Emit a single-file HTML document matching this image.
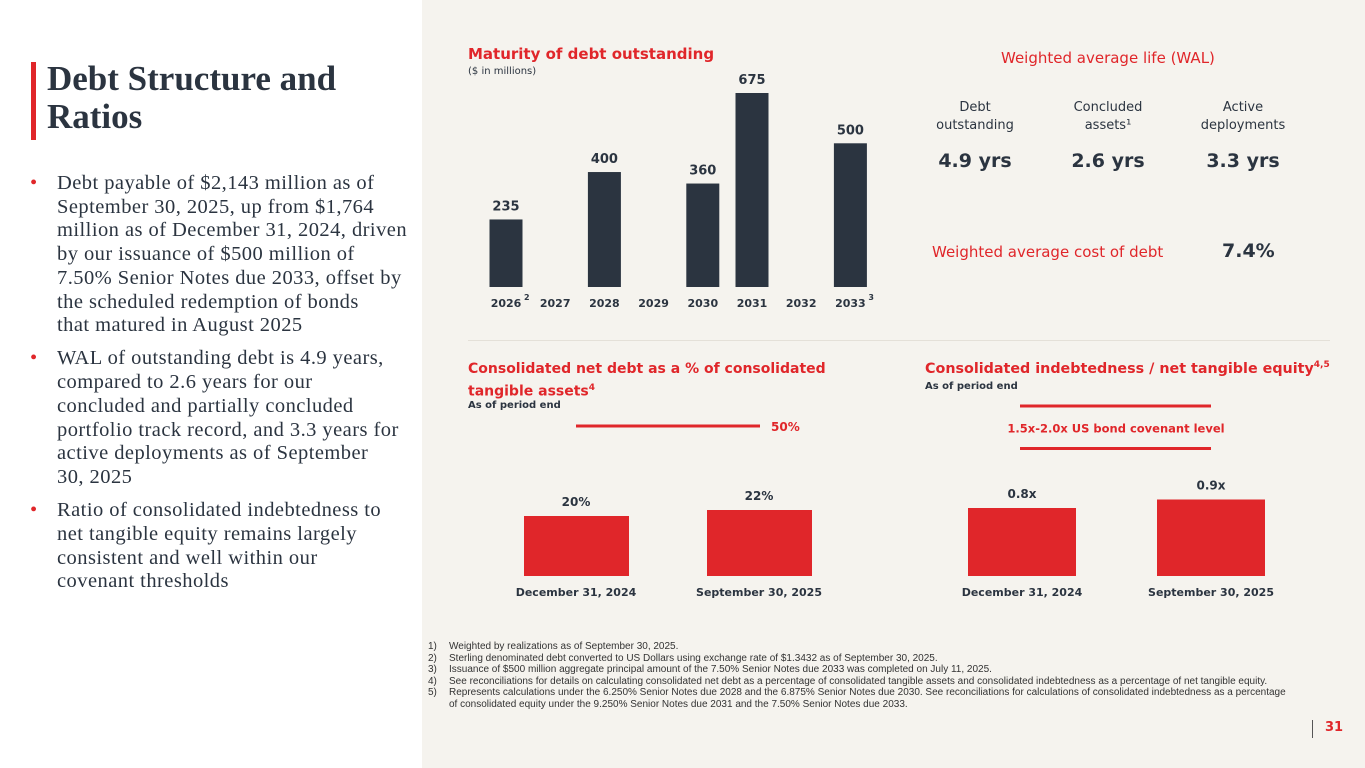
<!DOCTYPE html>
<html><head><meta charset="utf-8"><style>
body{margin:0;width:1365px;height:768px;position:relative;overflow:hidden;background:#fff;font-family:"DejaVu Sans","Liberation Sans",sans-serif;color:#2b3440}
.a{position:absolute;white-space:nowrap}
.red{color:#e0262a}
.serif{font-family:"Liberation Serif",serif}
.b{padding-left:27px;position:relative;margin-bottom:9.5px}
.b span.d{position:absolute;left:0;color:#e0262a;letter-spacing:0}
</style></head><body>
<div class="a" style="left:422px;top:0;width:943px;height:768px;background:#f5f3ee"></div>
<div class="a" style="left:31px;top:62px;width:5px;height:78px;background:#e0262a"></div>
<div class="a serif" style="left:47px;top:60px;font-size:35px;font-weight:bold;line-height:38px;color:#2b3440">Debt Structure and<br>Ratios</div>
<div class="a serif" style="left:30px;top:172px;font-size:20.5px;letter-spacing:0.45px;line-height:23.7px;color:#2b3440">
<div class="b"><span class="d">•</span>Debt payable of $2,143 million as of<br>September 30, 2025, up from $1,764<br>million as of December 31, 2024, driven<br>by our issuance of $500 million of<br>7.50% Senior Notes due 2033, offset by<br>the scheduled redemption of bonds<br>that matured in August 2025</div>
<div class="b"><span class="d">•</span>WAL of outstanding debt is 4.9 years,<br>compared to 2.6 years for our<br>concluded and partially concluded<br>portfolio track record, and 3.3 years for<br>active deployments as of September<br>30, 2025</div>
<div class="b"><span class="d">•</span>Ratio of consolidated indebtedness to<br>net tangible equity remains largely<br>consistent and well within our<br>covenant thresholds</div>
</div>

<div class="a red" style="left:468px;top:45px;font-size:15px;font-weight:bold">Maturity of debt outstanding</div>
<div class="a" style="left:468px;top:66px;font-size:10px">($ in millions)</div>

<div class="a red" style="left:1001px;top:49px;font-size:15px">Weighted average life (WAL)</div>
<div class="a" style="left:935px;top:99px;width:80px;text-align:center;font-size:13px;line-height:18px;white-space:normal">Debt outstanding</div>
<div class="a" style="left:1063px;top:99px;width:90px;text-align:center;font-size:13px;line-height:18px;white-space:normal">Concluded assets¹</div>
<div class="a" style="left:1193px;top:99px;width:100px;text-align:center;font-size:13px;line-height:18px;white-space:normal">Active deployments</div>
<div class="a" style="left:925px;top:150px;width:100px;text-align:center;font-size:19px;font-weight:bold">4.9 yrs</div>
<div class="a" style="left:1058px;top:150px;width:100px;text-align:center;font-size:19px;font-weight:bold">2.6 yrs</div>
<div class="a" style="left:1193px;top:150px;width:100px;text-align:center;font-size:19px;font-weight:bold">3.3 yrs</div>
<div class="a red" style="left:932px;top:243px;font-size:15px">Weighted average cost of debt</div>
<div class="a" style="left:1222px;top:240px;font-size:19px;font-weight:bold">7.4%</div>

<div class="a" style="left:468px;top:340px;width:862px;height:1px;background:#e4e0d8"></div>

<div class="a red" style="left:468px;top:360px;font-size:14px;font-weight:bold;line-height:19px">Consolidated net debt as a % of consolidated<br>tangible assets<sup style="font-size:9px">4</sup></div>
<div class="a" style="left:468px;top:400px;font-size:10px;font-weight:bold">As of period end</div>
<div class="a red" style="left:925px;top:360px;font-size:14.3px;font-weight:bold">Consolidated indebtedness / net tangible equity<sup style="font-size:9px">4,5</sup></div>
<div class="a" style="left:925px;top:381px;font-size:10px;font-weight:bold">As of period end</div>

<svg class="a" id="chart" style="left:0;top:0" width="1365" height="768"></svg>

<div class="a" style="left:428px;top:641px;font-family:'Liberation Sans',sans-serif;font-size:10px;line-height:11.6px;color:#333">
<div><span style="display:inline-block;width:21px">1)</span>Weighted by realizations as of September 30, 2025.</div>
<div><span style="display:inline-block;width:21px">2)</span>Sterling denominated debt converted to US Dollars using exchange rate of $1.3432 as of September 30, 2025.</div>
<div><span style="display:inline-block;width:21px">3)</span>Issuance of $500 million aggregate principal amount of the 7.50% Senior Notes due 2033 was completed on July 11, 2025.</div>
<div><span style="display:inline-block;width:21px">4)</span>See reconciliations for details on calculating consolidated net debt as a percentage of consolidated tangible assets and consolidated indebtedness as a percentage of net tangible equity.</div>
<div><span style="display:inline-block;width:21px">5)</span>Represents calculations under the 6.250% Senior Notes due 2028 and the 6.875% Senior Notes due 2030. See reconciliations for calculations of consolidated indebtedness as a percentage<br><span style="display:inline-block;width:21px"></span>of consolidated equity under the 9.250% Senior Notes due 2031 and the 7.50% Senior Notes due 2033.</div>
</div>
<div class="a" style="left:1312px;top:720px;width:1px;height:18px;background:#555"></div>
<div class="a red" style="left:1325px;top:720px;font-size:13px;font-weight:bold">31</div>

<script>
const years = ["2026","2027","2028","2029","2030","2031","2032","2033"];
const yearSup = ["2","","","","","","","3"];
const maturities = [235,0,400,0,360,675,0,500];
const netDebtCats = ["December 31, 2024","September 30, 2025"];
const netDebtPct = [20,22];
const netDebtLimit = [50];
const indebtCats = ["December 31, 2024","September 30, 2025"];
const indebtRatio = [0.8,0.9];
const covenantLevels = [1.5,2.0];

const svg = document.getElementById('chart');
const NS = 'http://www.w3.org/2000/svg';
function mk(tag, attrs, txt){const e=document.createElementNS(NS,tag);for(const k in attrs)e.setAttribute(k,attrs[k]);if(txt!==undefined)e.textContent=txt;svg.appendChild(e);return e;}
const F = '"DejaVu Sans","Liberation Sans",sans-serif';

const mBase=287, mScale=194/675;
const mx = i => 506 + i*49.2;
const my = v => mBase - v*mScale;
years.forEach((y,i)=>{
  const v=maturities[i];
  if(v>0){
    const r=mk('rect',{x:mx(i)-16.5,y:my(v),width:33,height:mBase-my(v),fill:'#2b3440'});
    
    
    const t=mk('text',{x:mx(i),y:my(v)-9,'text-anchor':'middle','font-size':13,'font-weight':'bold','font-family':F,fill:'#2b3440'},String(v));
    
    
  }
  const l=mk('text',{x:mx(i),y:307,'text-anchor':'middle','font-size':11,'font-weight':'bold','font-family':F,fill:'#2b3440'},y);
  
  
  if(yearSup[i]){
    const s=mk('text',{x:mx(i)+18,y:300,'font-size':8,'font-weight':'bold','font-family':F,fill:'#2b3440'},yearSup[i]);
    
    
  }
});

const nBase=576, nScale=3;
const ny = v => nBase - v*nScale;
const nx = i => 576 + i*183;
netDebtPct.forEach((v,i)=>{
  const r=mk('rect',{x:nx(i)-52,y:ny(v),width:105,height:nBase-ny(v),fill:'#e0262a'});
  
  
  const t=mk('text',{x:nx(i),y:ny(v)-10,'text-anchor':'middle','font-size':12,'font-weight':'bold','font-family':F,fill:'#2b3440'},v+'%');
  
  
  const c=mk('text',{x:nx(i),y:596,'text-anchor':'middle','font-size':11,'font-weight':'bold','font-family':F,fill:'#2b3440'},netDebtCats[i]);
  
  
});
const nl=mk('line',{x1:576,x2:760,y1:ny(netDebtLimit[0]),y2:ny(netDebtLimit[0]),stroke:'#e0262a','stroke-width':3});


const nlt=mk('text',{x:771,y:ny(netDebtLimit[0])+5,'font-size':12,'font-weight':'bold','font-family':F,fill:'#e0262a'},netDebtLimit[0]+'%');



const iBase=576, iScale=85;
const iy = v => iBase - v*iScale;
const ix = i => 1022 + i*189;
indebtRatio.forEach((v,i)=>{
  const r=mk('rect',{x:ix(i)-54,y:iy(v),width:108,height:iBase-iy(v),fill:'#e0262a'});
  
  
  const t=mk('text',{x:ix(i),y:iy(v)-10,'text-anchor':'middle','font-size':12,'font-weight':'bold','font-family':F,fill:'#2b3440'},v.toFixed(1)+'x');
  
  
  const c=mk('text',{x:ix(i),y:596,'text-anchor':'middle','font-size':11,'font-weight':'bold','font-family':F,fill:'#2b3440'},indebtCats[i]);
  
  
});
covenantLevels.forEach((v,i)=>{
  const l=mk('line',{x1:1020,x2:1211,y1:iy(v),y2:iy(v),stroke:'#e0262a','stroke-width':3});
  
  
});
const cl=mk('text',{x:1116,y:(iy(covenantLevels[0])+iy(covenantLevels[1]))/2+5,'text-anchor':'middle','font-size':11.5,'font-weight':'bold','font-family':F,fill:'#e0262a'},covenantLevels[0]+'x-'+covenantLevels[1].toFixed(1)+'x US bond covenant level');


</script>
</body></html>
